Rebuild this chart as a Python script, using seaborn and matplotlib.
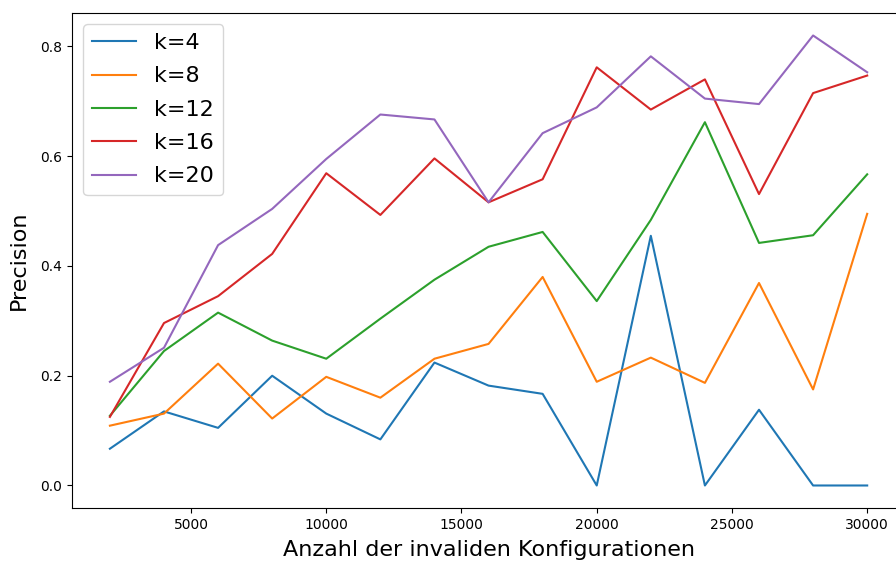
import matplotlib
matplotlib.use("Agg")
import matplotlib.pyplot as plt
import seaborn as sns
import pandas as pd

configs = [2000, 4000, 6000, 8000, 10000, 12000, 14000, 16000, 18000, 20000,
           22000, 24000, 26000, 28000, 30000]
k4 = [0.067, 0.135, 0.105, 0.200, 0.131, 0.084, 0.224, 0.182, 0.167, 0.0,
      0.455, 0.0, 0.138, 0.0, 0.0]
k8 = [0.109, 0.131, 0.222, 0.122, 0.198, 0.160, 0.231, 0.258, 0.380, 0.189,
      0.233, 0.187, 0.369, 0.175, 0.495]
k12 = [0.127, 0.245, 0.315, 0.264, 0.231, 0.304, 0.375, 0.435, 0.462, 0.336,
       0.484, 0.662, 0.442, 0.456, 0.567]
k16 = [0.125, 0.296, 0.345, 0.422, 0.569, 0.493, 0.596, 0.516, 0.558, 0.762,
       0.685, 0.740, 0.531, 0.715, 0.747]
k20 = [0.189, 0.251, 0.438, 0.504, 0.595, 0.676, 0.667, 0.516, 0.642, 0.689,
       0.782, 0.705, 0.695, 0.820, 0.753]
series_names = ["k=4", "k=8", "k=12", "k=16", "k=20"]

rows = []
for name, vals in zip(series_names, [k4, k8, k12, k16, k20]):
    for x, v in zip(configs, vals):
        rows.append({"configs": x, "precision": v, "k": name})
df = pd.DataFrame(rows)

fig = plt.figure(figsize=(8.96, 5.62), dpi=100)
# the axes run slightly past the right edge of the canvas
ax = fig.add_axes([0.0804, 0.0961, 0.9297, 0.8808])
sns.lineplot(data=df, x="configs", y="precision", hue="k", hue_order=series_names,
             palette="tab10", ax=ax, linewidth=1.5)
ax.set_xlabel("Anzahl der invaliden Konfigurationen", fontsize=16, labelpad=6)
ax.set_ylabel("Precision", fontsize=16, labelpad=8)
ax.set_xticks([5000, 10000, 15000, 20000, 25000, 30000])
ax.set_yticks([0.0, 0.2, 0.4, 0.6, 0.8])
ax.legend(fontsize=16, loc="upper left", labelspacing=0.6)
fig.savefig("out.png", dpi=100)
